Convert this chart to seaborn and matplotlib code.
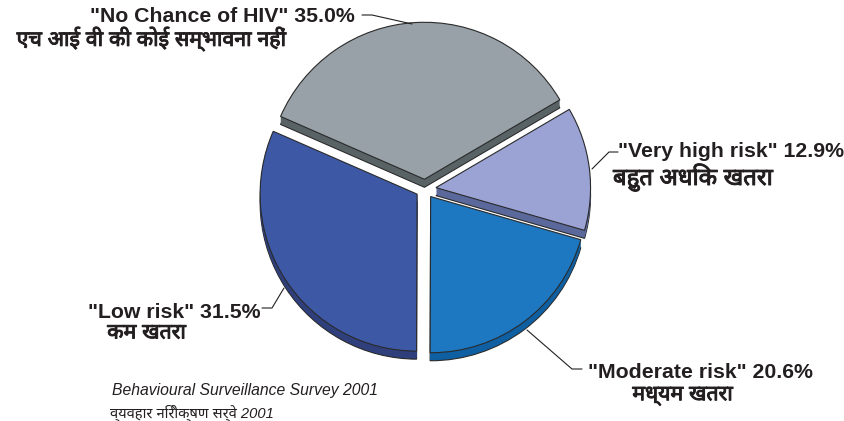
import matplotlib
matplotlib.use("Agg")
import matplotlib.pyplot as plt
import matplotlib.patheffects as pe
import seaborn as sns

sns.set_theme(style="white")
plt.rcParams['font.family'] = ['Liberation Sans', 'Noto Sans', 'DejaVu Sans']

# values
categories = ['Very high risk', 'Moderate risk', 'Low risk', 'No Chance of HIV']
shares = [12.9, 20.6, 31.5, 35.0]
hindi_labels = ['बहुत अधिक खतरा', 'मध्यम खतरा', 'कम खतरा', 'एच आई वी की कोई सम्भावना नहीं']
survey_en = 'Behavioural Surveillance Survey 2001'
survey_hi = 'व्यवहार निरीक्षण सर्वे 2001'

top_colors = ['#9aa3d4', '#1d78c1', '#3d59a6', '#98a1a8']
side_colors = ['#5a689c', '#0f5fa3', '#2e3f7c', '#596366']
ink = '#231f20'

explode = [0.07, 0.06, 0.06, 0.062]
slice_radius = [0.985, 0.995, 1.0, 1.0]

fig = plt.figure(figsize=(8.44, 4.21), dpi=100)
# axes in pixel terms, centre of pie near (425, 189), radius 157
R = 157
ax = fig.add_axes([0, 0, 1, 1])


def draw_pie(colors, shift, **wedge_kw):
    wedges, _ = ax.pie(shares, colors=colors, startangle=30.4, counterclock=False,
                       explode=explode, radius=1, center=(0, -shift / R), frame=True,
                       wedgeprops=wedge_kw)
    for w, r in zip(wedges, slice_radius):
        w.set_radius(r)


# side wall: stack of darker copies shifted down
depth = 8
draw_pie(side_colors, depth, linewidth=0.8, edgecolor='#2a2a2a')
for d in range(depth - 1, 0, -1):
    draw_pie(side_colors, d, linewidth=0)
draw_pie(top_colors, 0, linewidth=0.8, edgecolor='#2a2a2a')

ax.set_xlim(-425 / R, (844 - 425) / R)
ax.set_ylim(-(421 - 189) / R, 189 / R)
ax.axis('off')


def px(x, y):
    return (x - 425) / R, (189 - y) / R


def label(x, y, text, ha='left', size=15.3, heavy=False, **kw):
    t = ax.text(*px(x, y), text, ha=ha, va='center', fontsize=size, color=ink, **kw)
    if heavy:
        # Devanagari font has no bold cut here, thicken it a little
        t.set_path_effects([pe.withStroke(linewidth=0.7, foreground=ink)])


def leader(xs, ys):
    pts = [px(x, y) for x, y in zip(xs, ys)]
    ax.plot([p[0] for p in pts], [p[1] for p in pts], color=ink, lw=0.8)


label(355, 17, f'"{categories[3]}" {shares[3]:.1f}%', ha='right', fontweight='bold')
label(287, 39, hindi_labels[3], ha='right', heavy=True)
leader([362, 372, 412], [15, 15, 24])

label(618, 152, f'"{categories[0]}" {shares[0]:.1f}%', fontweight='bold')
label(613, 177, hindi_labels[0], size=17.2, heavy=True)
leader([618, 609, 592], [152, 152, 169])

label(260, 312, f'"{categories[2]}" {shares[2]:.1f}%', ha='right', fontweight='bold')
label(186, 333, hindi_labels[2], ha='right', heavy=True)
leader([262, 272, 284], [308, 308, 288])

label(588, 373, f'"{categories[1]}" {shares[1]:.1f}%', fontweight='bold')
label(733, 396, hindi_labels[1], ha='right', heavy=True)
leader([582, 572, 527], [369, 369, 330])

label(112, 391, survey_en, size=11.35, fontstyle='italic')
label(110, 413, survey_hi, size=10.6, fontstyle='italic')

fig.savefig('out.png', dpi=100, facecolor='white')
